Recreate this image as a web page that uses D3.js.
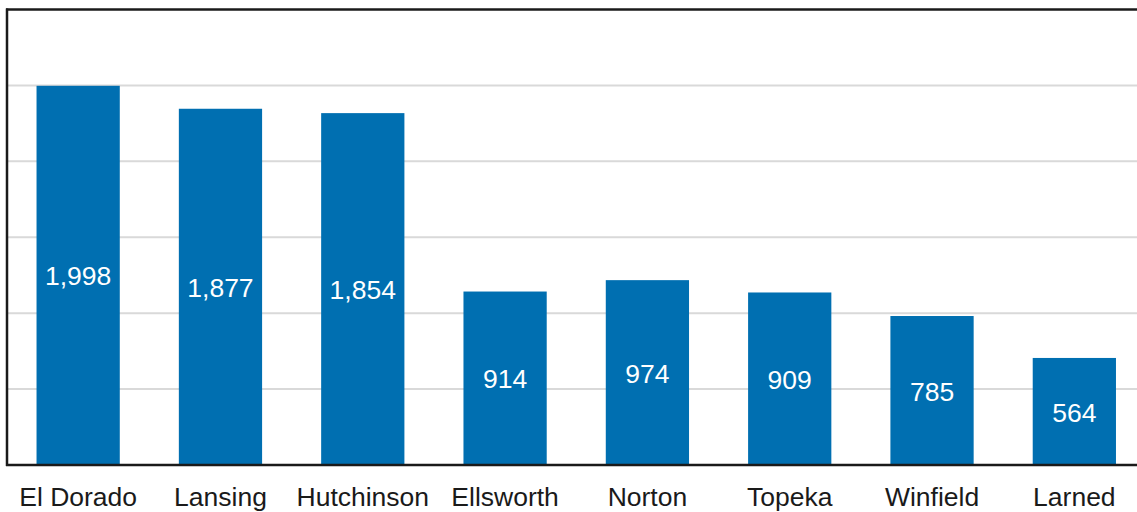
<!DOCTYPE html>
<html>
<head>
<meta charset="utf-8">
<script src="https://cdn.jsdelivr.net/npm/d3@7"></script>
<style>
  html, body { margin: 0; padding: 0; background: #fff; }
  svg { display: block; }
</style>
</head>
<body>
<svg id="chart" width="1137" height="512"></svg>
<script>
// Facility names and their counts
const categories = ["El Dorado", "Lansing", "Hutchinson", "Ellsworth", "Norton", "Topeka", "Winfield", "Larned"];
const values = [1998, 1877, 1854, 914, 974, 909, 785, 564];
const gridTicks = [400, 800, 1200, 1600, 2000];

const svg = d3.select("#chart");
const W = 1137, H = 512;

const plot = { left: 7, top: 9.5, bottom: 465, right: 1145.5 };

const x = d3.scaleBand()
  .domain(categories)
  .range([plot.left, plot.right])
  .paddingInner(0.415)
  .paddingOuter(0.2075);

const y = d3.scaleLinear()
  .domain([0, 2400])
  .range([plot.bottom, plot.top]);

// Horizontal gridlines
svg.append("g")
  .selectAll("line")
  .data(gridTicks)
  .join("line")
  .attr("x1", plot.left)
  .attr("x2", W + 10)
  .attr("y1", d => y(d))
  .attr("y2", d => y(d))
  .attr("stroke", "#d9d9d9")
  .attr("stroke-width", 2);

// Bars
svg.append("g")
  .selectAll("rect")
  .data(values)
  .join("rect")
  .attr("x", (d, i) => x(categories[i]))
  .attr("width", x.bandwidth())
  .attr("y", d => y(d))
  .attr("height", d => y(0) - y(d))
  .attr("fill", "#006fb1");

// Value labels centred in each bar
const fmt = d3.format(",");
svg.append("g")
  .selectAll("text")
  .data(values)
  .join("text")
  .attr("x", (d, i) => x(categories[i]) + x.bandwidth() / 2)
  .attr("y", d => (y(d) + y(0)) / 2)
  .attr("dy", "0.38em")
  .attr("text-anchor", "middle")
  .attr("fill", "#ffffff")
  .style("font-family", "'Liberation Sans', Arial, sans-serif")
  .style("font-size", "26.5px")
  .text(d => fmt(d));

// Frame: left and top edges plus baseline
svg.append("line")
  .attr("x1", plot.left).attr("x2", plot.left)
  .attr("y1", plot.top - 1).attr("y2", plot.bottom + 1)
  .attr("stroke", "#1a1a1a").attr("stroke-width", 2.5);
svg.append("line")
  .attr("x1", plot.left - 1).attr("x2", W + 10)
  .attr("y1", plot.top).attr("y2", plot.top)
  .attr("stroke", "#1a1a1a").attr("stroke-width", 2.5);

const xAxis = d3.axisBottom(x).tickSize(0).tickPadding(22);
const gx = svg.append("g")
  .attr("transform", `translate(0,${plot.bottom})`)
  .call(xAxis);
gx.select(".domain")
  .attr("d", `M${plot.left - 1},0H${W + 10}`)
  .attr("stroke", "#1a1a1a")
  .attr("stroke-width", 2.5);
gx.selectAll("text")
  .attr("fill", "#1a1a1a")
  .style("font-family", "'Liberation Sans', Arial, sans-serif")
  .style("font-size", "26.5px");
</script>
</body>
</html>
